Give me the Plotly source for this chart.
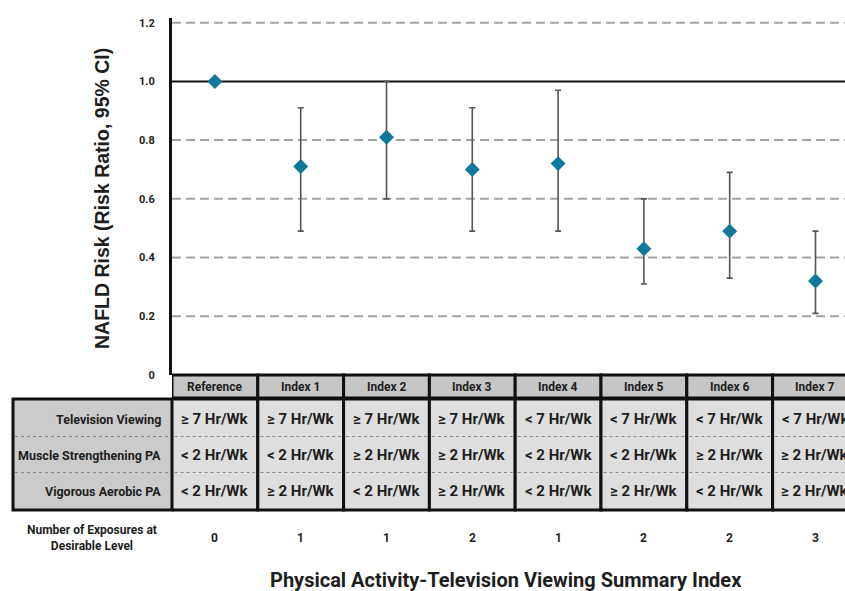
import plotly.graph_objects as go

# ---------------- data ----------------
categories = ["Reference", "Index 1", "Index 2", "Index 3", "Index 4", "Index 5", "Index 6", "Index 7"]
risk_ratio = [1.00, 0.71, 0.81, 0.70, 0.72, 0.43, 0.49, 0.32]
ci_lower = [1.00, 0.49, 0.60, 0.49, 0.49, 0.31, 0.33, 0.21]
ci_upper = [1.00, 0.91, 1.00, 0.91, 0.97, 0.60, 0.69, 0.49]

tv_viewing = ["≥ 7 Hr/Wk", "≥ 7 Hr/Wk", "≥ 7 Hr/Wk", "≥ 7 Hr/Wk",
              "< 7 Hr/Wk", "< 7 Hr/Wk", "< 7 Hr/Wk", "< 7 Hr/Wk"]
muscle_pa = ["< 2 Hr/Wk", "< 2 Hr/Wk", "≥ 2 Hr/Wk", "≥ 2 Hr/Wk",
             "< 2 Hr/Wk", "< 2 Hr/Wk", "≥ 2 Hr/Wk", "≥ 2 Hr/Wk"]
vigorous_pa = ["< 2 Hr/Wk", "≥ 2 Hr/Wk", "< 2 Hr/Wk", "≥ 2 Hr/Wk",
               "< 2 Hr/Wk", "≥ 2 Hr/Wk", "< 2 Hr/Wk", "≥ 2 Hr/Wk"]
row_labels = ["Television Viewing", "Muscle Strengthening PA", "Vigorous Aerobic PA"]
exposures = [0, 1, 1, 2, 1, 2, 2, 3]

y_tickvals = [0, 0.2, 0.4, 0.6, 0.8, 1.0, 1.2]
y_ticktext = ["0", "0.2", "0.4", "0.6", "0.8", "1.0", "1.2"]
dashed_grid = [0.2, 0.4, 0.6, 0.8, 1.2]
reference_line = 1.0

# ---------------- layout geometry ----------------
W, H = 845, 591
ML, MR, MT, MB = 172, 0, 18, 216
PW, PH = W - ML - MR, H - MT - MB
BOTTOM = MT + PH  # pixel y of plot bottom


def py(p):  # pixel y -> paper y
    return (BOTTOM - p) / PH


def px(p):  # pixel x -> paper x
    return (p - ML) / PW


xpos = list(range(1, len(categories) + 1))
TABLE_FONT = "Roboto"
DARK = "#1e1e1e"

fig = go.Figure()
fig.add_trace(go.Scatter(
    x=xpos, y=risk_ratio, mode="markers",
    marker=dict(symbol="diamond", size=11.5, color="#10789a"),
    error_y=dict(type="data", symmetric=False,
                 array=[u - v for u, v in zip(ci_upper, risk_ratio)],
                 arrayminus=[v - l for v, l in zip(risk_ratio, ci_lower)],
                 color="#555555", thickness=1.6, width=3),
    hoverinfo="skip", showlegend=False,
))

shapes = []
# gridlines
for g in dashed_grid:
    shapes.append(dict(type="line", xref="paper", yref="y", x0=0, x1=1, y0=g, y1=g,
                       line=dict(color="#a3a3a3", width=2, dash="9px,5px"), layer="below"))
shapes.append(dict(type="line", xref="paper", yref="y", x0=0, x1=1, y0=reference_line, y1=reference_line,
                   line=dict(color="#111111", width=2), layer="below"))

# table: left label block
shapes.append(dict(type="rect", xref="paper", yref="paper", x0=px(13), x1=px(172), y0=py(510), y1=py(399),
                   fillcolor="#cbcbcb", line=dict(color="#111111", width=3)))
# table columns
for i in xpos:
    shapes.append(dict(type="rect", xref="x", yref="paper", x0=i - 0.5, x1=i + 0.5, y0=py(398), y1=py(375),
                       fillcolor="#c6c6c6", line=dict(color="#111111", width=3)))
    shapes.append(dict(type="rect", xref="x", yref="paper", x0=i - 0.5, x1=i + 0.5, y0=py(510), y1=py(399),
                       fillcolor="#dedede", line=dict(color="#111111", width=3)))
# dotted row separators
for sep in (436.5, 472.5):
    shapes.append(dict(type="line", xref="paper", yref="paper", x0=px(15), x1=px(170), y0=py(sep), y1=py(sep),
                       line=dict(color="#8a8a8a", width=1, dash="dot")))
    for i in xpos:
        shapes.append(dict(type="line", xref="x", yref="paper", x0=i - 0.47, x1=i + 0.47, y0=py(sep), y1=py(sep),
                           line=dict(color="#8a8a8a", width=1, dash="dot")))

annotations = []


def ann(**kw):
    kw.setdefault("showarrow", False)
    kw.setdefault("xanchor", "center")
    kw.setdefault("yanchor", "middle")
    annotations.append(kw)


# y axis title
ann(text="NAFLD Risk (Risk Ratio, 95% CI)", xref="paper", yref="paper",
    x=px(102), y=py(199), textangle=-90,
    font=dict(family="Liberation Sans, Arial", size=19.5, color=DARK, weight="bold"))
# header texts
for i, c in zip(xpos, categories):
    ann(text=c, xref="x", yref="paper", x=i, y=py(387),
        font=dict(family=TABLE_FONT, size=12, color=DARK, weight="bold"))
# row labels
row_y = [419, 455, 491]
for lab, yy in zip(row_labels, row_y):
    ann(text=lab, xref="paper", yref="paper", x=px(163), y=py(yy), xanchor="right",
        font=dict(family=TABLE_FONT, size=12.5, color=DARK, weight="bold"))
# cell texts
for row_vals, yy in zip([tv_viewing, muscle_pa, vigorous_pa], row_y):
    for i, v in zip(xpos, row_vals):
        ann(text=v, xref="x", yref="paper", x=i, y=py(yy),
            font=dict(family=TABLE_FONT, size=15, color=DARK, weight="bold"))
# exposures
ann(text="Number of Exposures at<br>Desirable Level", xref="paper", yref="paper",
    x=px(92), y=py(538),
    font=dict(family=TABLE_FONT, size=12, color=DARK, weight="bold"))
for i, e in zip(xpos, exposures):
    ann(text=str(e), xref="x", yref="paper", x=i, y=py(538),
        font=dict(family=TABLE_FONT, size=12, color=DARK, weight="bold"))
# x title
ann(text="Physical Activity-Television Viewing Summary Index", xref="paper", yref="paper",
    x=px(506), y=py(580),
    font=dict(family=TABLE_FONT, size=20, color=DARK, weight="bold"))

fig.update_layout(
    width=W, height=H,
    margin=dict(l=ML, r=MR, t=MT, b=MB, pad=0),
    plot_bgcolor="white", paper_bgcolor="white",
    xaxis=dict(range=[0.5, 8.344], showgrid=False, zeroline=False, showline=False,
               showticklabels=False, ticks=""),
    yaxis=dict(range=[0, PH / 293.6], tickvals=y_tickvals, ticktext=y_ticktext,
               showgrid=False, zeroline=False, showline=True, linecolor="#111111", linewidth=3,
               ticks="", ticklabelstandoff=12,
               tickfont=dict(family=TABLE_FONT, size=11, color=DARK, weight="bold")),
    shapes=shapes, annotations=annotations,
)

fig.write_html("out.html", config={"displayModeBar": False},
               post_script="document.body.style.margin='0';")
